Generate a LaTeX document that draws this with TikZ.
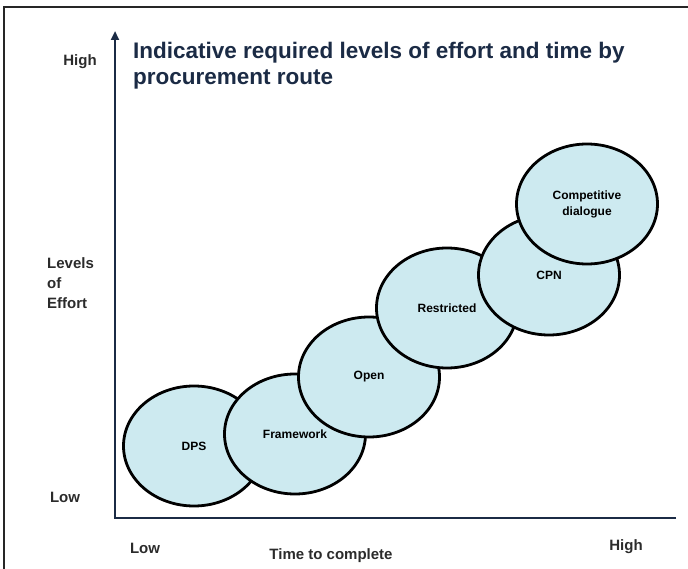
\documentclass[tikz,border=0pt]{standalone}
\usepackage{fontspec}
\setmainfont{Liberation Sans}
\usetikzlibrary{shapes.geometric,arrows.meta}
\definecolor{navy}{HTML}{1B2B45}
\definecolor{bubble}{HTML}{CDEAF0}
\definecolor{labelgray}{HTML}{2B2B2B}
\tikzset{
  stage/.style={ellipse, draw=black, line width=2.8pt, fill=bubble,
    minimum width=141pt, minimum height=120pt, inner sep=0pt,
    align=center, font=\fontsize{12}{16}\selectfont\bfseries},
  axislabel/.style={font=\fontsize{15}{20}\selectfont\bfseries,
    text=labelgray, inner sep=0pt}
}
\begin{document}
\begin{tikzpicture}[x=1pt,y=-1pt]
\useasboundingbox (0,0) rectangle (688,569);
% Frame round the figure
\draw[line width=1.8pt, black!85] (4,569) -- (4,7) -- (688,7);

% Axes
\coordinate (origin) at (115,518);
\coordinate (ytop) at (115,31);
\coordinate (xend) at (676,518);
\draw[line width=2.8pt, navy, -{Triangle[length=9pt,width=8pt]}] (xend) -- (origin) -- (ytop);

% Axis labels
\node[axislabel] (yhigh) at (80,62) {High};
\node[axislabel, anchor=west, align=left] (ylabel) at (47,283) {Levels\\of\\Effort};
\node[axislabel] (ylow) at (65,497) {Low};
\node[axislabel] (xlow) at (145,548) {Low};
\node[axislabel] (xlabel) at (331,556) {Time to complete};
\node[axislabel] (xhigh) at (626,547) {High};

% Title
\node[anchor=north west, align=left, inner sep=0pt, text=navy,
  font=\fontsize{22.5}{26}\selectfont\bfseries] (title) at (133,42)
  {Indicative required levels of effort and time by\\procurement route};

% Procurement routes, each one drawn over the previous
\node[stage] (dps) at (194,446) {DPS};
\node[stage] (framework) at (295,434) {Framework};
\node[stage] (open) at (369,377) {Open};
\node[stage] (restricted) at (447,308) {Restricted};
\node[stage] (cpn) at (549,275) {CPN};
\node[stage] (competitive) at (587,204) {Competitive\\dialogue};
\end{tikzpicture}
\end{document}
